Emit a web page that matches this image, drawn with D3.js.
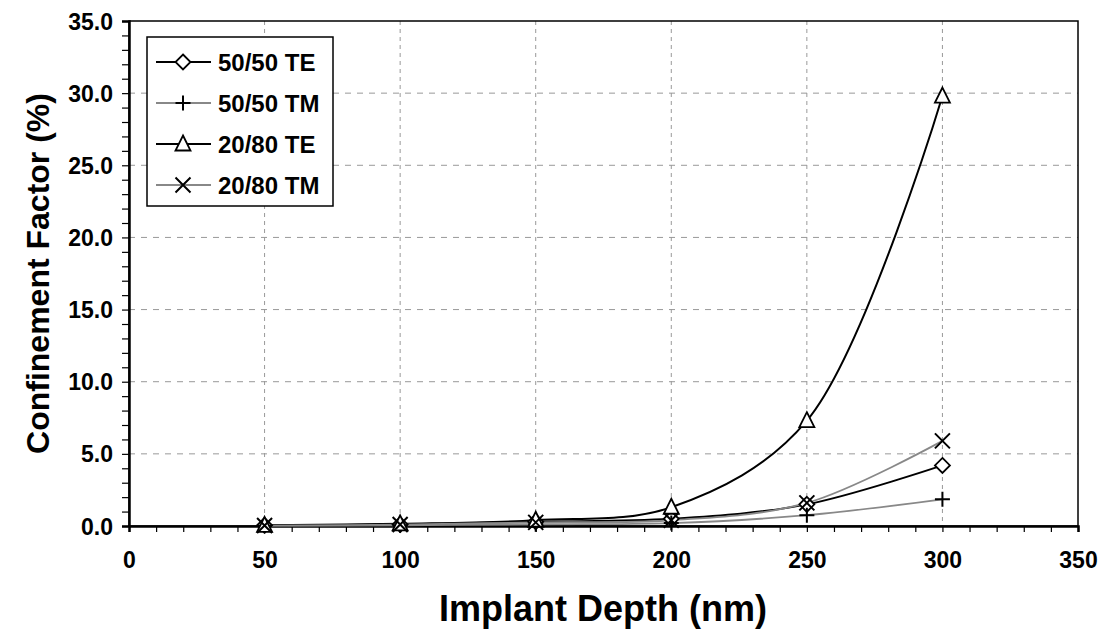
<!DOCTYPE html>
<html>
<head>
<meta charset="utf-8">
<script src="https://cdn.jsdelivr.net/npm/d3@7"></script>
<style>
body { margin:0; background:#fff; }
text { font-family: "Liberation Sans", Arial, sans-serif; font-weight: bold; }
</style>
</head>
<body>
<div id="chart"></div>
<script>
var depths = [50, 100, 150, 200, 250, 300];
var te5050 = [0.05, 0.1, 0.3, 0.5, 1.5, 4.2];
var tm5050 = [0.02, 0.05, 0.12, 0.2, 0.75, 1.85];
var te2080 = [0.05, 0.15, 0.4, 1.3, 7.3, 29.8];
var tm2080 = [0.03, 0.1, 0.25, 0.4, 1.6, 5.9];
var seriesNames = ["50/50 TE", "50/50 TM", "20/80 TE", "20/80 TM"];
var xTicks = [0, 50, 100, 150, 200, 250, 300, 350];
var yTicks = [0, 5, 10, 15, 20, 25, 30, 35];

var W = 1108, H = 631;
var m = {left:129, right:1078, top:21, bottom:526};

var svg = d3.select("#chart").append("svg").attr("width", W).attr("height", H);

var x = d3.scaleLinear().domain([0, 350]).range([m.left, m.right]);
var y = d3.scaleLinear().domain([0, 35]).range([m.bottom, m.top]);

// grid
svg.append("g").selectAll("line").data(xTicks.slice(1, -1)).enter().append("line")
    .attr("x1", function(d){ return x(d); }).attr("x2", function(d){ return x(d); })
    .attr("y1", m.top).attr("y2", m.bottom)
    .attr("stroke", "#999").attr("stroke-dasharray", "4,4").attr("stroke-width", 1);
svg.append("g").selectAll("line").data(yTicks.slice(1, -1)).enter().append("line")
    .attr("y1", function(d){ return y(d); }).attr("y2", function(d){ return y(d); })
    .attr("x1", m.left).attr("x2", m.right)
    .attr("stroke", "#999").attr("stroke-dasharray", "6,6").attr("stroke-width", 1);

// frame
svg.append("rect").attr("x", m.left).attr("y", m.top)
    .attr("width", m.right - m.left).attr("height", m.bottom - m.top)
    .attr("fill", "none").attr("stroke", "#000").attr("stroke-width", 1.5);

// axes
var xAxis = d3.axisBottom(x).tickValues(d3.range(0, 351, 10)).tickSize(6).tickFormat("");
var gx = svg.append("g").attr("transform", "translate(0," + m.bottom + ")").call(xAxis);
gx.select(".domain").attr("stroke-width", 2.5);
gx.selectAll(".tick line").attr("stroke-width", 1.2);
gx.selectAll(".tick").filter(function(d){ return d % 50 == 0; }).append("text")
    .attr("y", 42).attr("fill", "#000").attr("font-size", 23).attr("text-anchor", "middle")
    .text(function(d){ return d; });

var yAxis = d3.axisLeft(y).tickValues(d3.range(0, 36, 1)).tickSize(7).tickFormat("");
var gy = svg.append("g").attr("transform", "translate(" + m.left + ",0)").call(yAxis);
gy.select(".domain").attr("stroke-width", 2.5);
gy.selectAll(".tick line").attr("stroke-width", 1.2);
gy.selectAll(".tick").filter(function(d){ return d % 5 == 0; }).append("text")
    .attr("x", -16).attr("dy", "0.35em").attr("fill", "#000").attr("font-size", 23).attr("text-anchor", "end")
    .text(function(d){ return d.toFixed(1); });

svg.append("text").attr("x", 603).attr("y", 621)
    .attr("text-anchor", "middle").attr("font-size", 36).text("Implant Depth (nm)");
svg.append("text").attr("transform", "translate(49," + (m.top + m.bottom) / 2 + ") rotate(-90)")
    .attr("text-anchor", "middle").attr("font-size", 32).text("Confinement Factor (%)");

// series
var styles = [
    {vals: te5050, color:"#000", width:2, marker:"diamond"},
    {vals: tm5050, color:"#888", width:1.8, marker:"plus"},
    {vals: te2080, color:"#000", width:2, marker:"triangle"},
    {vals: tm2080, color:"#888", width:1.8, marker:"cross"}
];

var line = d3.line().curve(d3.curveCatmullRom.alpha(0.5))
    .x(function(d){ return x(d[0]); }).y(function(d){ return y(d[1]); });

function drawMarker(g, type, cx, cy) {
    var s = 7.5;
    if (type == "diamond") {
        g.append("path").attr("d", "M" + cx + "," + (cy - s) + "L" + (cx + s) + "," + cy + "L" + cx + "," + (cy + s) + "L" + (cx - s) + "," + cy + "Z")
            .attr("fill", "#fff").attr("stroke", "#000").attr("stroke-width", 1.8);
    } else if (type == "triangle") {
        g.append("path").attr("d", "M" + cx + "," + (cy - s - 1) + "L" + (cx + s) + "," + (cy + s - 1) + "L" + (cx - s) + "," + (cy + s - 1) + "Z")
            .attr("fill", "#fff").attr("stroke", "#000").attr("stroke-width", 1.8);
    } else if (type == "plus") {
        g.append("path").attr("d", "M" + (cx - s) + "," + cy + "H" + (cx + s) + "M" + cx + "," + (cy - s) + "V" + (cy + s))
            .attr("stroke", "#000").attr("stroke-width", 2);
    } else {
        g.append("path").attr("d", "M" + (cx - s) + "," + (cy - s) + "L" + (cx + s) + "," + (cy + s) + "M" + (cx + s) + "," + (cy - s) + "L" + (cx - s) + "," + (cy + s))
            .attr("stroke", "#000").attr("stroke-width", 2);
    }
}

var gs = svg.append("g");
styles.forEach(function(st) {
    var pts = depths.map(function(d, i){ return [d, st.vals[i]]; });
    gs.append("path").datum(pts).attr("d", line)
        .attr("fill", "none").attr("stroke", st.color).attr("stroke-width", st.width);
});
styles.forEach(function(st) {
    depths.forEach(function(d, i){ drawMarker(gs, st.marker, x(d), y(st.vals[i])); });
});

// legend
var lg = svg.append("g");
lg.append("rect").attr("x", 147).attr("y", 37).attr("width", 186).attr("height", 169)
    .attr("fill", "#fff").attr("stroke", "#000").attr("stroke-width", 1.5);
seriesNames.forEach(function(n, i) {
    var ly = 62 + i * 41;
    lg.append("line").attr("x1", 156).attr("x2", 211).attr("y1", ly).attr("y2", ly)
        .attr("stroke", styles[i].color).attr("stroke-width", styles[i].width);
    drawMarker(lg, styles[i].marker, 183, ly);
    lg.append("text").attr("x", 218).attr("y", ly).attr("dy", "0.36em")
        .attr("font-size", 24).text(n);
});
</script>
</body>
</html>
